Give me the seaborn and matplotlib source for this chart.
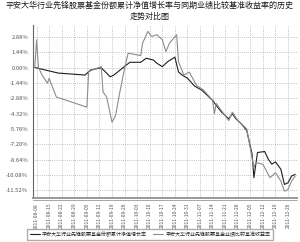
import matplotlib
matplotlib.use("Agg")
import matplotlib.pyplot as plt
import seaborn as sns
import pandas as pd
from matplotlib.lines import Line2D

# ---------------- data ----------------
fund_label = "平安大华行业先锋股票基金份额累计净值增长率"
bench_label = "平安大华行业先锋股票基金业绩比较基准收益率"
title_text = "平安大华行业先锋股票基金份额累计净值增长率与同期业绩比较基准收益率的历史\n走势对比图"

fund_dates = ["2011-08-07", "2011-08-13", "2011-08-20", "2011-09-04", "2011-09-07", "2011-09-13",
              "2011-09-18", "2011-09-20", "2011-09-27", "2011-09-29", "2011-10-05", "2011-10-08",
              "2011-10-12", "2011-10-14", "2011-10-17", "2011-10-20", "2011-10-24", "2011-10-26",
              "2011-10-28", "2011-10-31", "2011-11-04", "2011-11-08", "2011-11-11", "2011-11-14",
              "2011-11-16", "2011-11-19", "2011-11-23", "2011-11-25", "2011-11-27", "2011-11-30",
              "2011-12-03", "2011-12-06", "2011-12-07", "2011-12-09", "2011-12-13", "2011-12-15",
              "2011-12-17", "2011-12-19", "2011-12-22", "2011-12-24", "2011-12-26", "2011-12-28",
              "2011-12-30"]
fund_values = [0.00, -0.24, -0.52, -0.71, -0.24, -0.02,
               -0.87, -0.71, 0.24, 0.49, 0.49, 0.87,
               0.71, 0.40, 0.08, 0.55, 0.97, -0.40,
               -0.71, -1.00, -1.75, -2.13, -2.61, -3.08,
               -3.55, -4.19, -4.82, -4.34, -4.82, -5.29,
               -5.92, -8.13, -10.35, -7.98, -7.89, -8.61,
               -9.08, -8.86, -9.55, -10.98, -10.82, -10.19,
               -10.03]

bench_dates = ["2011-08-07", "2011-08-08", "2011-08-09", "2011-08-11", "2011-08-14", "2011-08-15",
               "2011-08-19", "2011-09-05", "2011-09-06", "2011-09-08", "2011-09-13", "2011-09-14",
               "2011-09-16", "2011-09-19", "2011-09-21", "2011-09-23", "2011-09-26", "2011-09-28",
               "2011-10-01", "2011-10-05", "2011-10-06", "2011-10-09", "2011-10-11", "2011-10-14",
               "2011-10-17", "2011-10-19", "2011-10-21", "2011-10-25", "2011-10-26", "2011-10-29",
               "2011-11-01", "2011-11-05", "2011-11-09", "2011-11-14", "2011-11-15", "2011-11-16",
               "2011-11-23", "2011-11-25", "2011-11-28", "2011-12-03", "2011-12-07", "2011-12-08",
               "2011-12-12", "2011-12-16", "2011-12-19", "2011-12-22", "2011-12-24", "2011-12-26",
               "2011-12-28", "2011-12-30"]
bench_values = [0.00, 2.60, 0.05, -0.71, -1.47, -1.02,
                -2.77, -3.72, -0.40, -0.24, 0.08, -2.29,
                -2.77, -5.14, -4.50, -2.61, -0.08, 1.35,
                1.25, 1.12, 2.29, 3.39, 2.92, 3.08,
                2.61, 1.50, 2.29, 3.08, 0.55, -0.71,
                -0.43, -1.66, -2.13, -3.08, -4.34, -3.37,
                -4.98, -4.19, -4.98, -5.76, -9.40, -8.93,
                -9.08, -10.35, -9.88, -10.66, -11.61, -11.45,
                -10.66, -10.19]

x_tick_labels = ["2011-08-08", "2011-08-15", "2011-08-22", "2011-08-29", "2011-09-05", "2011-09-12",
                 "2011-09-19", "2011-09-26", "2011-10-03", "2011-10-10", "2011-10-17", "2011-10-24",
                 "2011-10-31", "2011-11-07", "2011-11-14", "2011-11-21", "2011-11-28", "2011-12-05",
                 "2011-12-12", "2011-12-19", "2011-12-26"]
y_ticks = [2.88, 1.44, 0.00, -1.44, -2.88, -4.32, -5.76, -7.20, -8.64, -10.08, -11.52]

# ---------------- build frame ----------------
df = pd.concat([
    pd.DataFrame({"date": pd.to_datetime(fund_dates), "value": fund_values, "series": fund_label}),
    pd.DataFrame({"date": pd.to_datetime(bench_dates), "value": bench_values, "series": bench_label}),
], ignore_index=True)

sns.set_style("white")
plt.rcParams["font.family"] = ["Noto Sans CJK SC", "DejaVu Sans"]
plt.rcParams["axes.unicode_minus"] = False

fig = plt.figure(figsize=(3.0, 2.42), dpi=100)
ax = fig.add_axes([0.11, 0.182, 0.88, 0.715])

colors = {fund_label: "#1e1e1e", bench_label: "#8c8c8c"}
sns.lineplot(data=df, x="date", y="value", hue="series", palette=colors,
             hue_order=[fund_label, bench_label], ax=ax, linewidth=0.8,
             legend=False, sort=True, estimator=None)

ax.set_xlim(pd.Timestamp("2011-08-06"), pd.Timestamp("2011-12-31"))
ax.set_ylim(-12.25, 4.0)

ax.set_xticks(pd.to_datetime(x_tick_labels))
ax.set_xticklabels(x_tick_labels, rotation=90, fontsize=3.6, color="#555555")
ax.set_yticks(y_ticks)
ax.set_yticklabels([f"{v:.2f}%" for v in y_ticks], fontsize=4.2, color="#555555")
ax.set_xlabel("")
ax.set_ylabel("")

ax.grid(True, linestyle=(0, (1, 1.5)), color="#b0b0b0", linewidth=0.6)
ax.tick_params(axis="both", length=2, width=0.5, color="#888888", pad=1.5)

for s in ["top", "right"]:
    ax.spines[s].set_visible(False)
ax.spines["left"].set_color("#666666")
ax.spines["left"].set_linewidth(0.8)
ax.spines["bottom"].set_color("#999999")
ax.spines["bottom"].set_linewidth(1.4)
# second thin rule under the x axis (double-line look)
ax.add_line(Line2D([0, 1], [-0.013, -0.013], transform=ax.transAxes,
                   color="#999999", linewidth=0.6, clip_on=False))

fig.text(0.5, 0.995, title_text, ha="center", va="top", fontsize=5.8,
         color="#1a1a1a", linespacing=1.25, fontweight="medium")

handles = ax.get_lines()[:2]
fig.legend(handles, [fund_label, bench_label], loc="lower center",
           bbox_to_anchor=(0.5, 0.0), ncol=2, fontsize=3.6, frameon=True,
           edgecolor="#999999", fancybox=False, handlelength=2.0,
           borderpad=0.5, columnspacing=1.2, handletextpad=0.5)

fig.savefig("out.png", dpi=100)
